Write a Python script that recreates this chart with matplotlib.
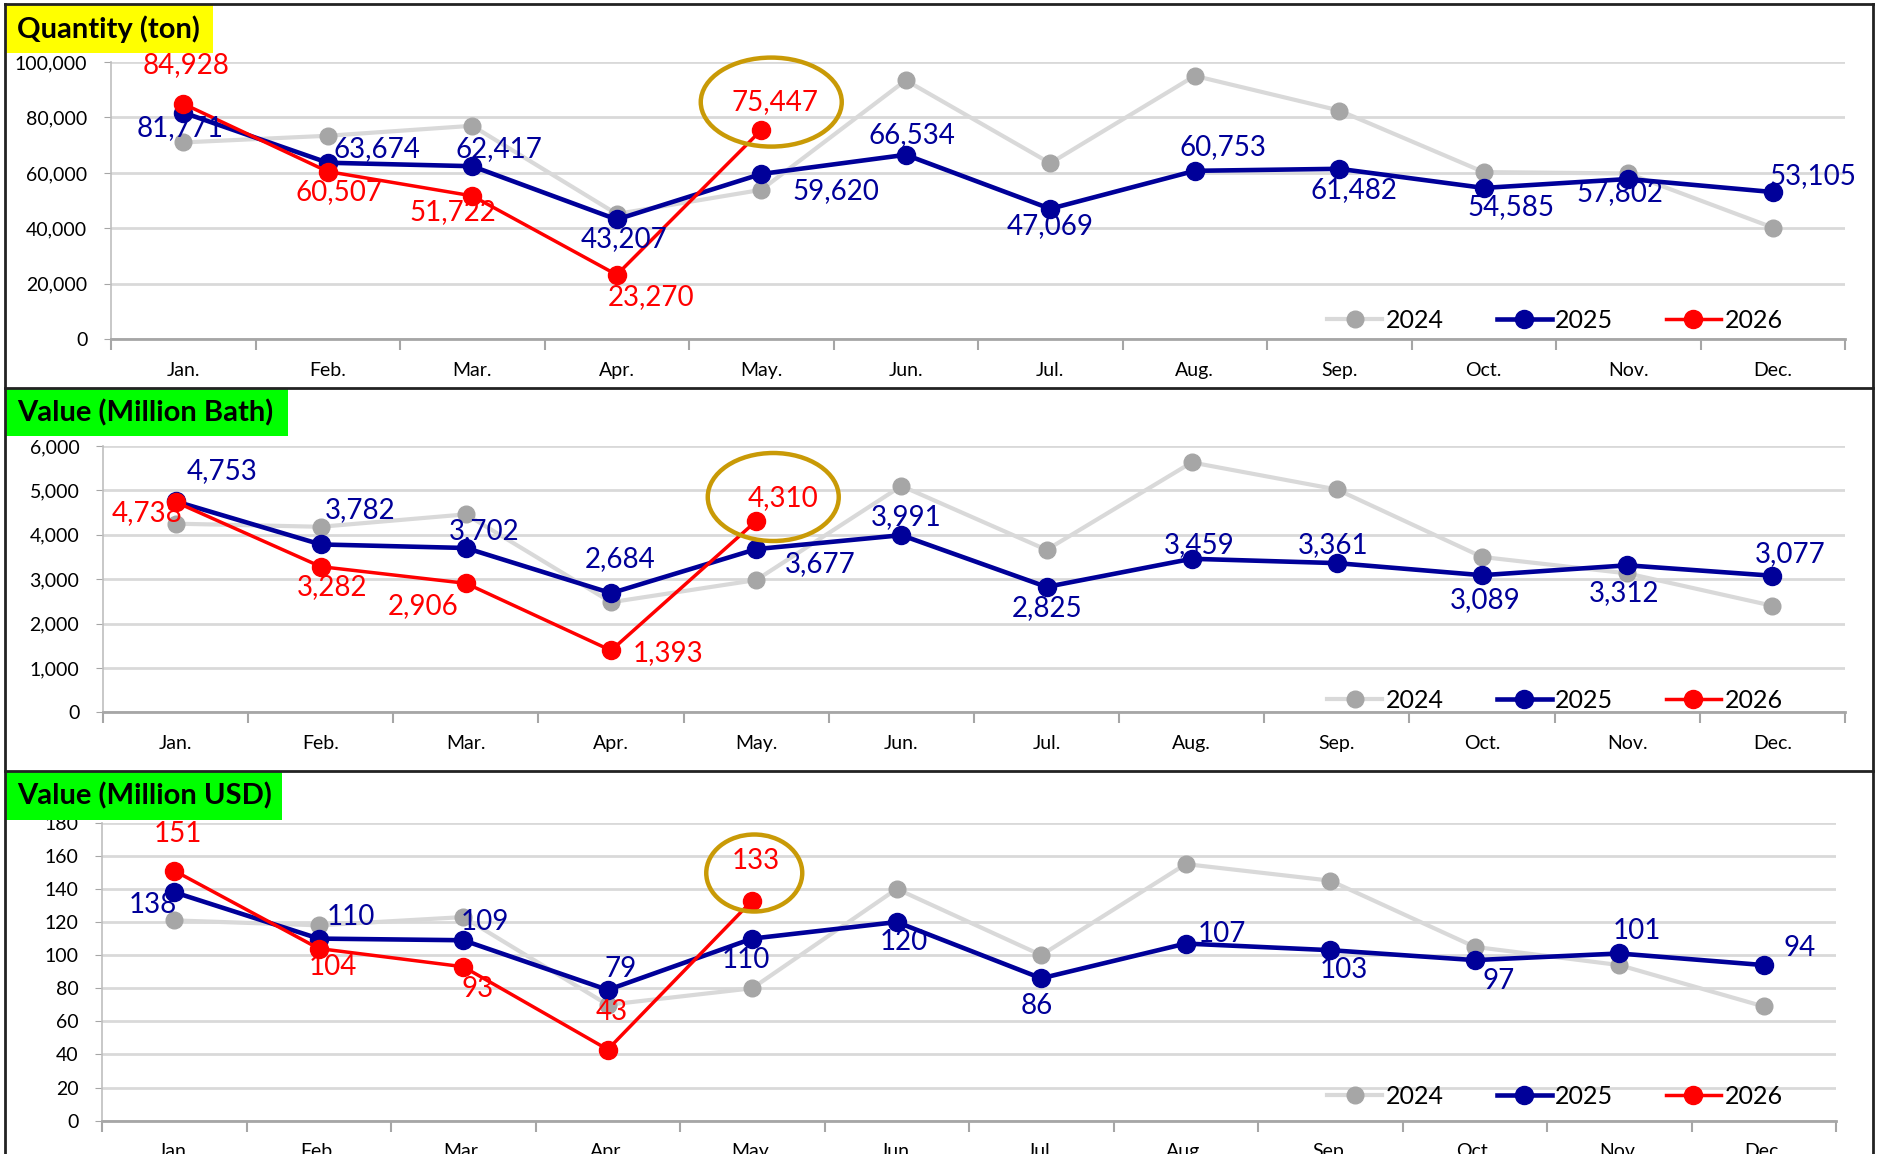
import numpy as np
import matplotlib.pyplot as plt
import matplotlib.transforms as mtrans
from matplotlib.patches import Ellipse, Rectangle
from matplotlib.lines import Line2D

plt.rcParams['font.family'] = ['Lato', 'DejaVu Sans']

# ---- data ----
months = ['Jan.', 'Feb.', 'Mar.', 'Apr.', 'May.', 'Jun.',
          'Jul.', 'Aug.', 'Sep.', 'Oct.', 'Nov.', 'Dec.']

qty_2024 = [71000, 73400, 77000, 45200, 53900, 93400, 63500, 95000, 82500, 60300, 59800, 40300]
qty_2025 = [81771, 63674, 62417, 43207, 59620, 66534, 47069, 60753, 61482, 54585, 57802, 53105]
qty_2026 = [84928, 60507, 51722, 23270, 75447]

thb_2024 = [4250, 4180, 4460, 2480, 2980, 5100, 3660, 5630, 5020, 3500, 3130, 2400]
thb_2025 = [4753, 3782, 3702, 2684, 3677, 3991, 2825, 3459, 3361, 3089, 3312, 3077]
thb_2026 = [4738, 3282, 2906, 1393, 4310]

usd_2024 = [121, 118, 123, 70, 80, 140, 100, 155, 145, 105, 94, 69]
usd_2025 = [138, 110, 109, 79, 110, 120, 86, 107, 103, 97, 101, 94]
usd_2026 = [151, 104, 93, 43, 133]

# label offsets in image pixels (dx right, dy down)
qty_off_25 = [(-3, 15), (49, -14), (27, -17), (7, 20), (75, 17), (6, -20),
              (0, 17), (28, -24), (15, 21), (27, 19), (-8, 14), (40, -16)]
qty_off_26 = [(3, -39), (11, 21), (-19, 16), (34, 22), (14, -28)]
thb_off_25 = [(46, -30), (39, -34), (18, -17), (9, -34), (64, 15), (5, -18),
              (0, 21), (7, -14), (-4, -18), (3, 25), (-3, 28), (18, -22)]
thb_off_26 = [(-29, 11), (11, 20), (-43, 23), (57, 3), (27, -23)]
usd_off_25 = [(-21, 13), (32, -22), (22, -18), (13, -21), (-6, 21), (7, 20),
              (-4, 28), (36, -10), (14, 20), (24, 21), (18, -22), (36, -17)]
usd_off_26 = [(4, -37), (14, 18), (14, 22), (4, -38), (4, -40)]

W, H = 1877, 1154
fig = plt.figure(figsize=(W / 100, H / 100), dpi=100)

C24L, C24M = '#D9D9D9', '#A6A6A6'
C25 = '#000099'
C26 = '#FF0000'
GOLD = '#C99A06'


def rect(l, r, t, b):
    return [l / W, 1 - b / H, (r - l) / W, (b - t) / H]


def panel(box, y24, y25, y26, ymax, step, off25, off26, ell, title, tcol, tbox, legy):
    ax = fig.add_axes(rect(*box))
    x = np.arange(12)
    ax.plot(x, y24, color=C24L, lw=3, marker='o', ms=12, mfc=C24M, mec=C24M, zorder=2)
    ax.plot(x, y25, color=C25, lw=3.3, marker='o', ms=13, mfc=C25, mec=C25, zorder=3)
    x26 = np.arange(len(y26))
    ax.plot(x26, y26, color=C26, lw=2.5, marker='o', ms=13, mfc=C26, mec=C26, zorder=4)

    for xi, v, (dx, dy) in zip(x, y25, off25):
        ax.annotate(f'{v:,}', (xi, v), xytext=(dx, -dy), textcoords='offset pixels',
                    ha='center', va='center', fontsize=20, color=C25, zorder=6)
    for xi, v, (dx, dy) in zip(x26, y26, off26):
        ax.annotate(f'{v:,}', (xi, v), xytext=(dx, -dy), textcoords='offset pixels',
                    ha='center', va='center', fontsize=20, color=C26, zorder=6)

    ax.set_xlim(-0.5, 11.5)
    ax.set_ylim(0, ymax)
    ax.set_yticks(np.arange(0, ymax + 1, step))
    ax.set_yticklabels([f'{int(v):,}' for v in np.arange(0, ymax + 1, step)])
    ax.grid(axis='y', color='#D9D9D9', lw=2)
    ax.set_axisbelow(True)
    ax.set_xticks(np.arange(-0.5, 12, 1))
    ax.set_xticklabels([])
    ax.set_xticks(x, minor=True)
    ax.set_xticklabels(months, minor=True)
    ax.tick_params(axis='x', which='major', length=8, width=1.5, color='#A6A6A6')
    ax.tick_params(axis='x', which='minor', length=0, pad=16, labelsize=14)
    ax.tick_params(axis='y', length=5, color='#A6A6A6', pad=12, labelsize=14)
    for s in ['top', 'right']:
        ax.spines[s].set_visible(False)
    ax.spines['bottom'].set_color('#A6A6A6')
    ax.spines['bottom'].set_linewidth(2)
    ax.spines['left'].set_color('#BFBFBF')
    ax.spines['left'].set_linewidth(1.2)

    # highlight circle around the latest month
    ex, ey, ew, eh = ell
    tr = fig.dpi_scale_trans + mtrans.ScaledTranslation(4, y26[-1], ax.transData)
    ax.add_patch(Ellipse((ex / 100, ey / 100), ew / 100, eh / 100, transform=tr,
                         fill=False, ec=GOLD, lw=3.2, clip_on=False, zorder=7))

    # title box
    l, r, t, b = tbox
    fig.patches.append(Rectangle((l / W, 1 - b / H), (r - l) / W, (b - t) / H,
                                 transform=fig.transFigure, fc=tcol, ec='none', zorder=8))
    fig.text((l + 11) / W, 1 - ((t + b) / 2) / H, title, fontsize=21, fontweight='bold',
             ha='left', va='center', zorder=9)

    handles = [Line2D([], [], color=C24L, lw=3, marker='o', ms=12, mfc=C24M, mec=C24M),
               Line2D([], [], color=C25, lw=3.3, marker='o', ms=13, mfc=C25, mec=C25),
               Line2D([], [], color=C26, lw=2.5, marker='o', ms=13, mfc=C26, mec=C26)]
    ax.legend(handles, ['2024', '2025', '2026'], ncol=3, frameon=False, fontsize=18,
              loc='center', bbox_to_anchor=(1555 / W, 1 - legy / H),
              bbox_transform=fig.transFigure, handlelength=2.2, handletextpad=0.15,
              columnspacing=2.1)
    return ax


panel((111, 1845, 62, 339.3), qty_2024, qty_2025, qty_2026, 100000, 20000,
      qty_off_25, qty_off_26, (10, 28, 141, 89), 'Quantity (ton)', '#FFFF00',
      (6, 213, 5, 53), 320)
panel((103, 1845, 446, 712.3), thb_2024, thb_2025, thb_2026, 6000, 1000,
      thb_off_25, thb_off_26, (17, 24, 131, 88), 'Value (Million Bath)', '#00FF00',
      (6, 288, 389, 436), 700)
panel((102, 1836, 822.7, 1120.7), usd_2024, usd_2025, usd_2026, 180, 20,
      usd_off_25, usd_off_26, (2, 27.5, 96, 77), 'Value (Million USD)', '#00FF00',
      (6, 282, 772, 820), 1096)

# panel frames
for y in [4, 388, 771]:
    fig.add_artist(Line2D([5 / W, 1873 / W], [1 - y / H, 1 - y / H], color='#222222', lw=2,
                          transform=fig.transFigure, zorder=10))
for xv in [5, 1873]:
    fig.add_artist(Line2D([xv / W, xv / W], [1 - 4 / H, 0], color='#222222', lw=2,
                          transform=fig.transFigure, zorder=10))

fig.savefig('out.png', dpi=100)
